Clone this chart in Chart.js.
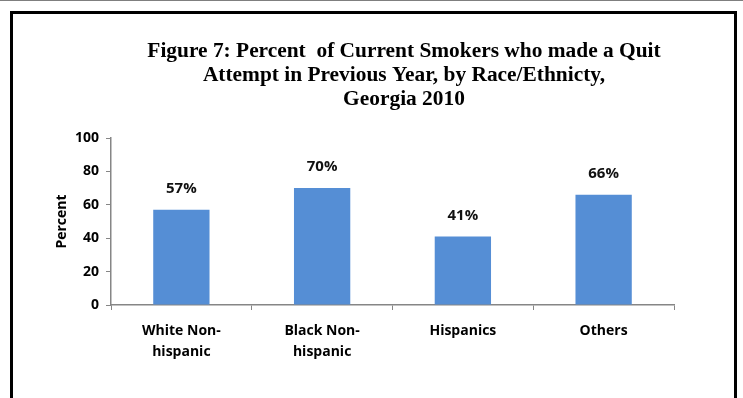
<!DOCTYPE html>
<html>
<head>
<meta charset="utf-8">
<script src="https://cdn.jsdelivr.net/npm/chart.js@4/dist/chart.umd.min.js"></script>
<style>
  html, body { margin: 0; padding: 0; background: #ffffff; }
  #wrap { position: relative; width: 743px; height: 398px; overflow: hidden; }
  #topline { position: absolute; left: 0; top: 0; width: 743px; height: 1px; background: #7f7f7f; }
  #frame { position: absolute; left: 10px; top: 11px; width: 721px; height: 400px;
           border: 3px solid #000; border-bottom: none; }
  #chart { position: absolute; left: 0; top: 0; }
</style>
</head>
<body>
<div id="wrap">
  <div id="topline"></div>
  <div id="frame"></div>
  <canvas id="chart" width="743" height="398"></canvas>
</div>
<script>
// chart data
const categories = [['White Non-', 'hispanic'], ['Black Non-', 'hispanic'], 'Hispanics', 'Others'];
const quitPercent = [57, 70, 41, 66];
const titleLines = [
    'Figure 7: Percent  of Current Smokers who made a Quit',
    'Attempt in Previous Year, by Race/Ethnicty,',
    'Georgia 2010'
];

const sansFont = '"Open Sans", "Noto Sans", sans-serif';

// Draws the figure title (centred over the figure, not the plot area)
const titlePlugin = {
    id: 'figTitle',
    afterDraw(chart) {
        const ctx = chart.ctx;
        ctx.save();
        ctx.fillStyle = '#000';
        ctx.font = 'bold 21.4px "Liberation Serif", "Times New Roman", serif';
        ctx.textAlign = 'center';
        ctx.textBaseline = 'alphabetic';
        titleLines.forEach((line, i) => {
            ctx.fillText(line, 404, 57 + i * 24);
        });
        ctx.restore();
    }
};

// Percent labels above each bar
const valueLabels = {
    id: 'valueLabels',
    afterDatasetsDraw(chart) {
        const ctx = chart.ctx;
        const meta = chart.getDatasetMeta(0);
        ctx.save();
        ctx.fillStyle = '#111';
        ctx.font = 'bold 15px ' + sansFont;
        ctx.textAlign = 'center';
        ctx.textBaseline = 'middle';
        meta.data.forEach((bar, i) => {
            ctx.fillText(quitPercent[i] + '%', bar.x, bar.y - 21);
        });
        ctx.restore();
    }
};

const ctx = document.getElementById('chart').getContext('2d');
new Chart(ctx, {
    type: 'bar',
    data: {
        labels: categories,
        datasets: [{
            label: 'Percent',
            data: quitPercent,
            backgroundColor: '#558ed5',
            borderWidth: 0,
            barPercentage: 0.4,
            categoryPercentage: 1.0
        }]
    },
    options: {
        responsive: false,
        animation: false,
        devicePixelRatio: 1,
        layout: { padding: { top: 138, right: 69, left: 0, bottom: 0 } },
        plugins: {
            legend: { display: false },
            title: { display: false },
            tooltip: { enabled: false }
        },
        scales: {
            x: {
                grid: { display: true, drawOnChartArea: false, offset: true, color: '#868686', tickLength: 5 },
                border: { color: '#868686', width: 1.5 },
                ticks: {
                    color: '#000',
                    font: { family: sansFont, size: 14, weight: 'bold', lineHeight: 1.5 },
                    padding: 11,
                    maxRotation: 0,
                    autoSkip: false
                },
                afterFit(scale) { scale.height = 93; }
            },
            y: {
                min: 0,
                max: 100,
                ticks: {
                    stepSize: 20,
                    color: '#000',
                    font: { family: sansFont, size: 14, weight: 'bold' },
                    padding: 7
                },
                grid: { display: true, drawOnChartArea: false, color: '#868686', tickLength: 5 },
                border: { color: '#868686', width: 1.5 },
                title: {
                    display: true,
                    text: 'Percent',
                    color: '#000',
                    font: { family: sansFont, size: 14, weight: 'bold' },
                    padding: { top: 54, bottom: 0 }
                },
                afterFit(scale) { scale.width = 111; }
            }
        }
    },
    plugins: [titlePlugin, valueLabels]
});
</script>
</body>
</html>
